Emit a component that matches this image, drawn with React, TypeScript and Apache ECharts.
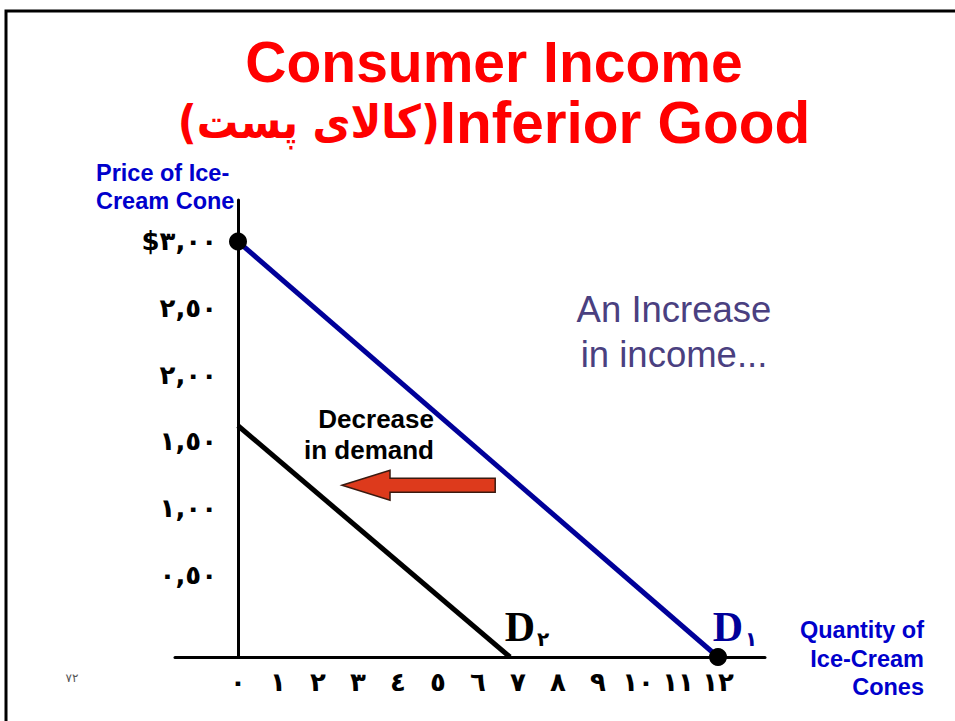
import React, { useEffect, useRef } from 'react';
import * as echarts from 'echarts';

// ---- data ----
const xTicks = [0, 1, 2, 3, 4, 5, 6, 7, 8, 9, 10, 11, 12];
const xTickLabels = ['٠', '١', '٢', '٣', '٤', '٥', '٦', '٧', '٨', '٩', '١٠', '١١', '١٢'];
const yTicks = [0.5, 1, 1.5, 2, 2.5, 3];
const yTickLabels = ['٠,٥٠', '١,٠٠', '١,٥٠', '٢,٠٠', '٢,٥٠', '$٣,٠٠'];
const demand1: number[][] = [[0, 3], [12, 0]];
const demand2: number[][] = [[0, 1.67], [6.8, 0]];
const keyPoints: number[][] = [[0, 3], [12, 0]];
const arrowFrom = [6.43, 1.24];
const arrowTo = [2.6, 1.24];

const titleLine1 = 'Consumer Income';
const titleFa = '(کالای پست)';
const titleEn = 'Inferior Good';
const yName = ['Price of Ice-', 'Cream Cone'];
const xName = ['Quantity of', 'Ice-Cream', 'Cones'];
const noteIncome = ['An Increase', 'in income...'];
const noteDecrease = ['Decrease', 'in demand'];
const pageNo = '٧٢';

const SANS = '"Liberation Sans", Arial, "DejaVu Sans", sans-serif';
const ARAB = '"DejaVu Sans", "Liberation Sans", sans-serif';
const ARABC = '"DejaVu Sans Condensed", "DejaVu Sans", sans-serif';
const SERIF = '"Liberation Serif", "Times New Roman", "DejaVu Serif", serif';

function endLabel(name: string, sub: string, color: string) {
  return {
    show: true,
    position: 'top',
    distance: 8,
    offset: [17, 0],
    formatter: `{d|${name}}{s|${sub}}`,
    rich: {
      d: { fontFamily: SERIF, fontWeight: 'bold', fontSize: 42, lineHeight: 44, color, verticalAlign: 'middle' },
      s: { fontFamily: ARAB, fontWeight: 'bold', fontSize: 20, lineHeight: 12, color, verticalAlign: 'bottom', padding: [0, 0, 0, 2] },
    },
  };
}

function withEndLabel(data: number[][], label: any) {
  return data.map((p, i) => (i === data.length - 1 ? { value: p, label } : { value: p }));
}

export default function App() {
  const ref = useRef<HTMLDivElement>(null);
  useEffect(() => {
    if (!ref.current) return;
    const chart = echarts.init(ref.current, null, { renderer: 'svg' });
    const titleStyle = { fontFamily: SANS, fontWeight: 'bold', fontSize: 57, lineHeight: 60, color: '#ff0000' };
    const option: any = {
      animation: false,
      backgroundColor: '#ffffff',
      title: {
        text: `{e|${titleLine1}}\n{f|${titleFa}}{g|${titleEn}}`,
        left: 489,
        top: 27,
        textAlign: 'center',
        textStyle: {
          ...titleStyle,
          rich: {
            e: { ...titleStyle },
            g: { ...titleStyle, fontSize: 58.5 },
            f: { ...titleStyle, fontFamily: ARABC, fontSize: 46 },
          },
        },
      },
      grid: { left: 175, right: 190, top: 200, bottom: 64, containLabel: false },
      xAxis: {
        type: 'value',
        min: -1.575,
        max: 13.175,
        axisLine: { onZero: false, lineStyle: { color: '#000', width: 3 } },
        axisTick: { show: false },
        splitLine: { show: false },
        axisLabel: {
          customValues: xTicks,
          formatter: (v: number) => xTickLabels[xTicks.findIndex((t) => Math.abs(t - v) < 1e-6)] ?? '',
          fontFamily: ARAB,
          fontWeight: 'bold',
          fontSize: 26,
          color: '#000',
          margin: 12,
        },
      },
      yAxis: [
        {
          type: 'value',
          min: -0.114,
          max: 3.307,
          offset: -63,
          axisLine: { show: true, onZero: false, lineStyle: { color: '#000', width: 3 } },
          axisTick: { show: false },
          splitLine: { show: false },
          axisLabel: {
            customValues: yTicks,
            formatter: (v: number) => yTickLabels[yTicks.findIndex((t) => Math.abs(t - v) < 1e-6)] ?? '',
            fontFamily: ARAB,
            fontWeight: 'bold',
            fontSize: 26,
            color: '#000',
            margin: 21,
          },
        },
        { type: 'value', min: 0, max: 3.3, show: false },
      ],
      series: [
        {
          type: 'line',
          yAxisIndex: 1,
          data: withEndLabel(demand1, endLabel('D', '١', '#000099')),
          symbol: 'circle',
          symbolSize: 1,
          showSymbol: true,
          lineStyle: { color: '#000099', width: 5 },
          itemStyle: { color: '#000099' },
          z: 3,
        },
        {
          type: 'line',
          yAxisIndex: 1,
          data: withEndLabel(demand2, endLabel('D', '٢', '#000000')),
          symbol: 'circle',
          symbolSize: 1,
          showSymbol: true,
          lineStyle: { color: '#000000', width: 5 },
          itemStyle: { color: '#000000' },
          z: 3,
        },
        {
          type: 'scatter',
          yAxisIndex: 1,
          data: keyPoints,
          symbol: 'circle',
          symbolSize: 18,
          itemStyle: { color: '#000000', opacity: 1 },
          z: 5,
        },
      ],
    };
    chart.setOption(option);

    const a = chart.convertToPixel({ seriesIndex: 0 }, arrowFrom) as number[];
    const b = chart.convertToPixel({ seriesIndex: 0 }, arrowTo) as number[];
    const y = a[1];
    const headLen = 48, headHalf = 15, shaftHalf = 7;
    const arrowPts = [
      [b[0], y],
      [b[0] + headLen, y - headHalf],
      [b[0] + headLen, y - shaftHalf],
      [a[0], y - shaftHalf],
      [a[0], y + shaftHalf],
      [b[0] + headLen, y + shaftHalf],
      [b[0] + headLen, y + headHalf],
    ];

    chart.setOption({
      graphic: [
        {
          type: 'rect',
          shape: { x: 6, y: 11, width: 1000, height: 800 },
          style: { fill: 'none', stroke: '#000', lineWidth: 3 },
          z: -10,
          silent: true,
        },
        {
          type: 'text',
          x: 96,
          y: 159,
          style: { text: yName.join('\n'), fontFamily: SANS, fontWeight: 'bold', fontSize: 23.5, lineHeight: 28, fill: '#0000cc', align: 'left' },
        },
        {
          type: 'text',
          x: 924,
          y: 616,
          style: { text: xName.join('\n'), fontFamily: SANS, fontWeight: 'bold', fontSize: 23.5, lineHeight: 28.5, fill: '#0000cc', align: 'right' },
        },
        {
          type: 'text',
          x: 674,
          y: 287,
          style: { text: noteIncome.join('\n'), fontFamily: SANS, fontSize: 36.5, lineHeight: 45, fill: '#4a4080', align: 'center' },
        },
        {
          type: 'text',
          x: 434,
          y: 403,
          style: { text: noteDecrease.join('\n'), fontFamily: SANS, fontWeight: 'bold', fontSize: 26, lineHeight: 31, fill: '#000', align: 'right' },
        },
        {
          type: 'polygon',
          shape: { points: arrowPts },
          style: { fill: '#dd3a1c', stroke: '#3a1a10', lineWidth: 1.5 },
          z: 10,
        },
        {
          type: 'text',
          x: 72,
          y: 678,
          style: { text: pageNo, fontFamily: ARAB, fontSize: 12, fill: '#555', align: 'center', verticalAlign: 'middle' },
        },
      ],
    });

    return () => chart.dispose();
  }, []);
  return <div ref={ref} style={{ position: 'absolute', left: 0, top: 0, width: 955, height: 721, background: '#fff' }} />;
}
